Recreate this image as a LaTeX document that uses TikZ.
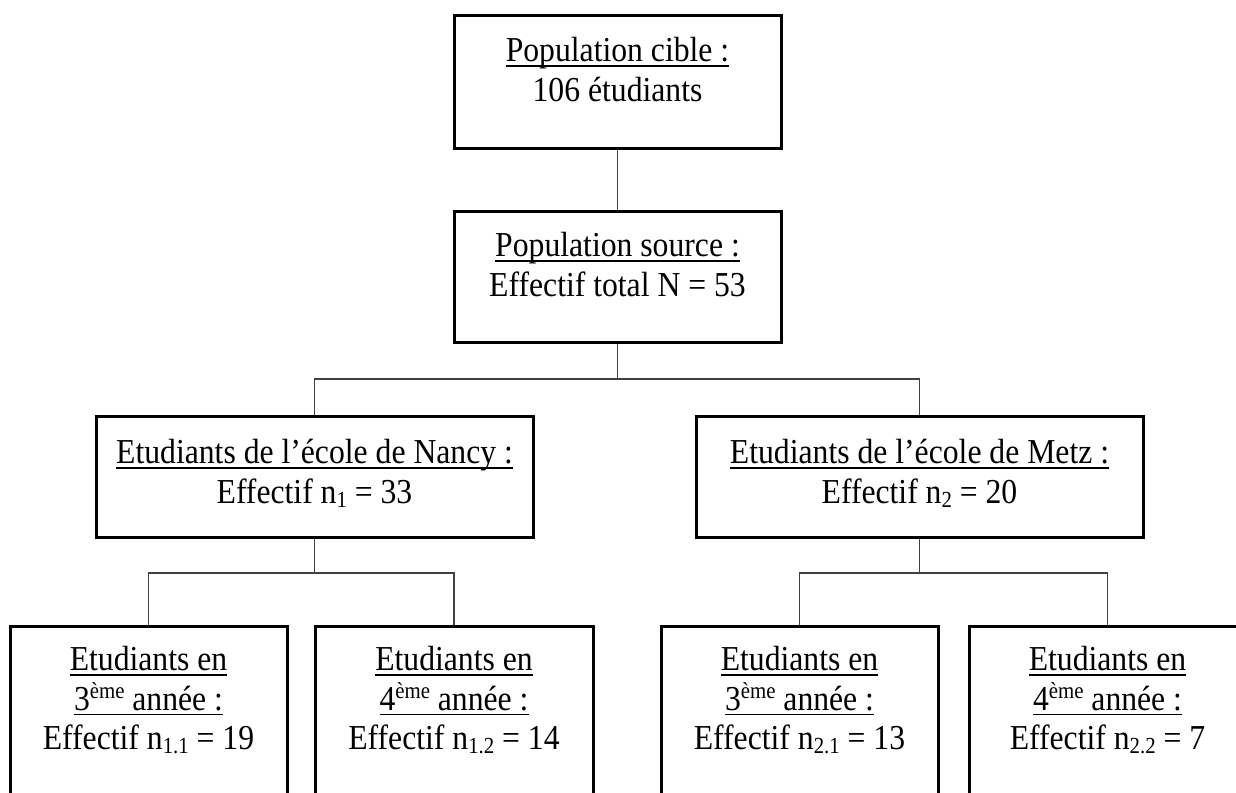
\documentclass[tikz,border=0pt]{standalone}
\usepackage{fontspec}
\setmainfont[FakeStretch=0.905]{Liberation Serif}
\newsavebox\ulbox
\newcommand\ulx[1]{\sbox\ulbox{#1}\rlap{\rule[-2.4pt]{\wd\ulbox}{0.8pt}}\usebox\ulbox}
\newcommand\subx[1]{\raisebox{-2pt}{\fontsize{11.5}{11.5}\selectfont #1}}
\newcommand\supx[1]{\raisebox{6pt}{\fontsize{11.5}{11.5}\selectfont #1}}
\newcommand\fst{\rule{0pt}{17pt}}
\tikzset{
  boxnode/.style={draw=black, line width=1.5pt, rectangle, inner sep=0pt, fill=none},
  txt/.style={anchor=north, inner sep=0pt, align=center, font=\fontsize{17.5}{19.75}\selectfont},
  conn/.style={draw=black!75, line width=0.7pt}
}
\begin{document}
\begin{tikzpicture}[x=0.5pt,y=-0.5pt]
\useasboundingbox (0,0) rectangle (1236,792);
\clip (0,0) rectangle (1236,792);
\fill[white] (0,0) rectangle (1236,792);
% boxes
\node[boxnode, minimum width=163.5pt, minimum height=66pt] (top) at (617.5,82) {};
\node[boxnode, minimum width=163.5pt, minimum height=65.5pt] (src) at (617.5,276.5) {};
\node[boxnode, minimum width=218.5pt, minimum height=60.5pt] (nancy) at (314.5,476.5) {};
\node[boxnode, minimum width=223.5pt, minimum height=60.5pt] (metz) at (919.5,476.5) {};
\node[boxnode, minimum width=138.5pt, minimum height=97pt] (b1) at (148.5,723) {};
\node[boxnode, minimum width=139pt, minimum height=97pt] (b2) at (454,723) {};
\node[boxnode, minimum width=138.5pt, minimum height=97pt] (b3) at (799.5,723) {};
\node[boxnode, minimum width=138.5pt, minimum height=97pt] (b4) at (1107.5,723) {};
% texts
\node[txt, yshift=-6.5pt] (ttop) at (top.north) {\fst\ulx{Population cible :}\\106 étudiants};
\node[txt, yshift=-6.5pt] (tsrc) at (src.north) {\fst\ulx{Population source :}\\Effectif total N = 53};
\node[txt, yshift=-7.5pt] (tnancy) at (nancy.north) {\fst\ulx{Etudiants de l’école de Nancy :}\\Effectif n\subx{1} = 33};
\node[txt, yshift=-7.5pt] (tmetz) at (metz.north) {\fst\ulx{Etudiants de l’école de Metz :}\\Effectif n\subx{2} = 20};
\node[txt, yshift=-6pt] (tb1) at (b1.north) {\fst\ulx{Etudiants en}\\\ulx{3\supx{ème} année :}\\Effectif n\subx{1.1} = 19};
\node[txt, yshift=-6pt] (tb2) at (b2.north) {\fst\ulx{Etudiants en}\\\ulx{4\supx{ème} année :}\\Effectif n\subx{1.2} = 14};
\node[txt, yshift=-6pt] (tb3) at (b3.north) {\fst\ulx{Etudiants en}\\\ulx{3\supx{ème} année :}\\Effectif n\subx{2.1} = 13};
\node[txt, yshift=-6pt] (tb4) at (b4.north) {\fst\ulx{Etudiants en}\\\ulx{4\supx{ème} année :}\\Effectif n\subx{2.2} = 7};
% connectors
\coordinate (h1) at (617.5,379);
\coordinate (h2) at (314.5,573);
\coordinate (h3) at (919.5,573);
\draw[conn] (top.south) -- (src.north);
\draw[conn] (src.south) -- (h1);
\draw[conn] (nancy.north) |- (h1) -| (metz.north);
\draw[conn] (nancy.south) -- (h2);
\draw[conn] (b1.north) |- (h2) -| (b2.north);
\draw[conn] (metz.south) -- (h3);
\draw[conn] (b3.north) |- (h3) -| (b4.north);
\end{tikzpicture}
\end{document}
